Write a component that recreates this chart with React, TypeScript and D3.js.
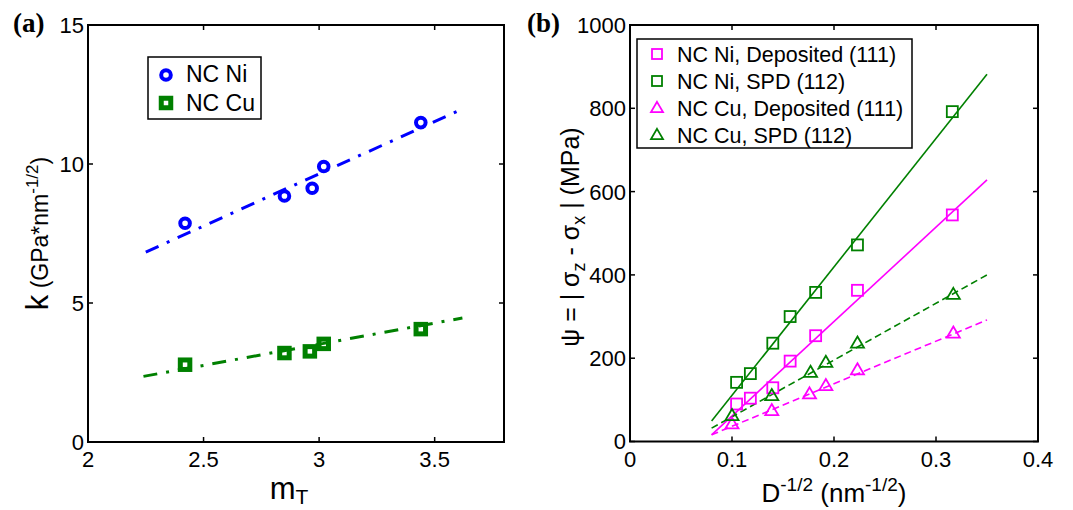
import React from "react";
import * as d3 from "d3";

// ---- panel (a): k vs m_T ----
const niMT = [2.42, 2.85, 2.97, 3.02, 3.44];
const niK = [7.87, 8.85, 9.13, 9.91, 11.49];
const cuMT = [2.42, 2.85, 2.96, 3.02, 3.44];
const cuK = [2.78, 3.2, 3.26, 3.53, 4.06];
const niFitMT = [2.25, 3.6];
const niFitK = [6.83, 11.9];
const cuFitMT = [2.24, 3.62];
const cuFitK = [2.36, 4.46];
const aXTicks = [2, 2.5, 3, 3.5];
const aYTicks = [0, 5, 10, 15];
const aLegend = ["NC Ni", "NC Cu"];

// ---- panel (b): psi vs D^-1/2 ----
const niSpdD = [0.1045, 0.118, 0.14, 0.157, 0.182, 0.223, 0.316];
const niSpdPsi = [142, 163, 236, 300, 358, 472, 792];
const niDepD = [0.1045, 0.118, 0.14, 0.157, 0.182, 0.223, 0.316];
const niDepPsi = [90, 104, 129, 193, 254, 363, 544];
const cuSpdD = [0.1, 0.139, 0.177, 0.192, 0.223, 0.317];
const cuSpdPsi = [62, 110, 166, 190, 236, 353];
const cuDepD = [0.1, 0.139, 0.176, 0.192, 0.223, 0.317];
const cuDepPsi = [42, 74, 114, 134, 172, 260];
const fitD = [0.08, 0.35];
const niSpdFit = [49, 882];
const niDepFit = [16, 628];
const cuSpdFit = [32, 400];
const cuDepFit = [16, 292];
const bXTicks = [0, 0.1, 0.2, 0.3, 0.4];
const bYTicks = [0, 200, 400, 600, 800, 1000];
const bLegend = ["NC Ni, Deposited (111)", "NC Ni, SPD (112)", "NC Cu, Deposited (111)", "NC Cu, SPD (112)"];

const BLUE = "#0000ff";
const GREEN = "#008000";
const MAGENTA = "#ff00ff";
const FONT = "'Liberation Sans', Arial, sans-serif";

const zip = (xs: number[], ys: number[]) => xs.map((x, i) => [x, ys[i]] as [number, number]);

function Square({ x, y, s, color, w }: any) {
    return <rect x={x - s / 2} y={y - s / 2} width={s} height={s} fill="none" stroke={color} strokeWidth={w} />;
}

function Triangle({ x, y, s, color, w }: any) {
    const h = s * 0.85;
    const p = `M${x},${y - h * 0.6}L${x + s / 2},${y + h * 0.4}L${x - s / 2},${y + h * 0.4}Z`;
    return <path d={p} fill="none" stroke={color} strokeWidth={w} strokeLinejoin="miter" />;
}

function Frame({ x, y, xTicks, yTicks, xFmt, yFmt }: any) {
    const [x0, x1] = x.range();
    const [y0, y1] = y.range();
    const tl = 5;
    return (
        <g>
            {xTicks.map((t: number) => (
                <g key={"x" + t}>
                    <line x1={x(t)} x2={x(t)} y1={y0} y2={y0 - tl} stroke="#000" strokeWidth={1.5} />
                    <line x1={x(t)} x2={x(t)} y1={y1} y2={y1 + tl} stroke="#000" strokeWidth={1.5} />
                    <text x={x(t)} y={y0 + 25} textAnchor="middle" fontSize={22}>{xFmt(t)}</text>
                </g>
            ))}
            {yTicks.map((t: number) => (
                <g key={"y" + t}>
                    <line x1={x0} x2={x0 + tl} y1={y(t)} y2={y(t)} stroke="#000" strokeWidth={1.5} />
                    <line x1={x1} x2={x1 - tl} y1={y(t)} y2={y(t)} stroke="#000" strokeWidth={1.5} />
                    <text x={x0 - 4} y={y(t)} dy="0.36em" textAnchor="end" fontSize={22}>{yFmt(t)}</text>
                </g>
            ))}
            <rect x={x0} y={y1} width={x1 - x0} height={y0 - y1} fill="none" stroke="#000" strokeWidth={2} />
        </g>
    );
}

function PanelA() {
    const x = d3.scaleLinear().domain([2, 3.8]).range([88, 504]);
    const y = d3.scaleLinear().domain([0, 15]).range([442, 25]);
    const line = d3.line<[number, number]>().x(d => x(d[0])).y(d => y(d[1]));
    const dashDot = "14,9,3,9";
    return (
        <g>
            <text x={13} y={32} fontFamily="'Liberation Serif', 'Times New Roman', serif" fontWeight="bold" fontSize={27}>(a)</text>
            <path d={line(zip(niFitMT, niFitK)) || ""} fill="none" stroke={BLUE} strokeWidth={3} strokeDasharray={dashDot} />
            <path d={line(zip(cuFitMT, cuFitK)) || ""} fill="none" stroke={GREEN} strokeWidth={3} strokeDasharray={dashDot} />
            {zip(niMT, niK).map((d, i) => (
                <circle key={"n" + i} cx={x(d[0])} cy={y(d[1])} r={4.8} fill="none" stroke={BLUE} strokeWidth={4} />
            ))}
            {zip(cuMT, cuK).map((d, i) => (
                <Square key={"c" + i} x={x(d[0])} y={y(d[1])} s={9.5} color={GREEN} w={5} />
            ))}
            <Frame x={x} y={y} xTicks={aXTicks} yTicks={aYTicks} xFmt={(t: number) => String(t)} yFmt={(t: number) => String(t)} />
            <g>
                <rect x={148} y={57} width={113} height={62} fill="#fff" stroke="#000" strokeWidth={1.5} />
                <circle cx={166} cy={75} r={4.8} fill="none" stroke={BLUE} strokeWidth={4} />
                <text x={186} y={82} fontSize={23}>{aLegend[0]}</text>
                <Square x={166} y={103} s={9.5} color={GREEN} w={5} />
                <text x={186} y={111} fontSize={23}>{aLegend[1]}</text>
            </g>
            <text transform={`translate(48,${(442 + 25) / 2}) rotate(-90)`} textAnchor="middle">
                <tspan fontSize={31}>k</tspan>
                <tspan fontSize={23}> (GPa*nm</tspan>
                <tspan fontSize={17} dy={-10}>-1/2</tspan>
                <tspan fontSize={23} dy={10}>)</tspan>
            </text>
            <text x={(88 + 504) / 2 - 7} y={499} textAnchor="middle">
                <tspan fontSize={31}>m</tspan>
                <tspan fontSize={21} dy={5}>T</tspan>
            </text>
        </g>
    );
}

function PanelB() {
    const x = d3.scaleLinear().domain([0, 0.4]).range([630, 1038]);
    const y = d3.scaleLinear().domain([0, 1000]).range([441.5, 25]);
    const line = d3.line<[number, number]>().x(d => x(d[0])).y(d => y(d[1]));
    const fits = [
        { ys: niSpdFit, color: GREEN, dash: undefined },
        { ys: niDepFit, color: MAGENTA, dash: undefined },
        { ys: cuSpdFit, color: GREEN, dash: "7,4" },
        { ys: cuDepFit, color: MAGENTA, dash: "7,4" },
    ];
    const lx = 657;
    const rows = [54, 81, 108, 135];
    return (
        <g>
            <text x={527} y={32} fontFamily="'Liberation Serif', 'Times New Roman', serif" fontWeight="bold" fontSize={27}>(b)</text>
            {fits.map((f, i) => (
                <path key={"f" + i} d={line(zip(fitD, f.ys)) || ""} fill="none" stroke={f.color} strokeWidth={1.6} strokeDasharray={f.dash} />
            ))}
            {zip(niDepD, niDepPsi).map((d, i) => <Square key={"nd" + i} x={x(d[0])} y={y(d[1])} s={11} color={MAGENTA} w={1.8} />)}
            {zip(niSpdD, niSpdPsi).map((d, i) => <Square key={"ns" + i} x={x(d[0])} y={y(d[1])} s={11} color={GREEN} w={1.8} />)}
            {zip(cuDepD, cuDepPsi).map((d, i) => <Triangle key={"cd" + i} x={x(d[0])} y={y(d[1])} s={13} color={MAGENTA} w={1.8} />)}
            {zip(cuSpdD, cuSpdPsi).map((d, i) => <Triangle key={"cs" + i} x={x(d[0])} y={y(d[1])} s={13} color={GREEN} w={1.8} />)}
            <Frame x={x} y={y} xTicks={bXTicks} yTicks={bYTicks} xFmt={(t: number) => String(t)} yFmt={(t: number) => String(t)} />
            <g>
                <rect x={637} y={39} width={275} height={109} fill="#fff" stroke="#000" strokeWidth={1.5} />
                <Square x={lx} y={rows[0]} s={10} color={MAGENTA} w={1.8} />
                <Square x={lx} y={rows[1]} s={10} color={GREEN} w={1.8} />
                <Triangle x={lx} y={rows[2]} s={12} color={MAGENTA} w={1.8} />
                <Triangle x={lx} y={rows[3]} s={12} color={GREEN} w={1.8} />
                {bLegend.map((s, i) => (
                    <text key={s} x={677} y={rows[i] + 8} fontSize={21.5}>{s}</text>
                ))}
            </g>
            <text transform={`translate(579,237) rotate(-90)`} textAnchor="middle" fontSize={25}>
                <tspan>ψ = | σ</tspan>
                <tspan fontSize={18} dy={6}>z</tspan>
                <tspan dy={-6}> - σ</tspan>
                <tspan fontSize={18} dy={6}>x</tspan>
                <tspan dy={-6}> | (MPa)</tspan>
            </text>
            <text x={(630 + 1038) / 2} y={502} textAnchor="middle" fontSize={26}>
                <tspan>D</tspan>
                <tspan fontSize={19} dy={-11}>-1/2</tspan>
                <tspan dy={11}> (nm</tspan>
                <tspan fontSize={19} dy={-11}>-1/2</tspan>
                <tspan dy={11}>)</tspan>
            </text>
        </g>
    );
}

export default function App() {
    return (
        <svg
            width={1073}
            height={510}
            viewBox="0 0 1073 510"
            style={{ position: "absolute", left: 0, top: 0, background: "#fff" }}
            fontFamily={FONT}
        >
            <rect width={1073} height={510} fill="#fff" />
            <PanelA />
            <PanelB />
        </svg>
    );
}
